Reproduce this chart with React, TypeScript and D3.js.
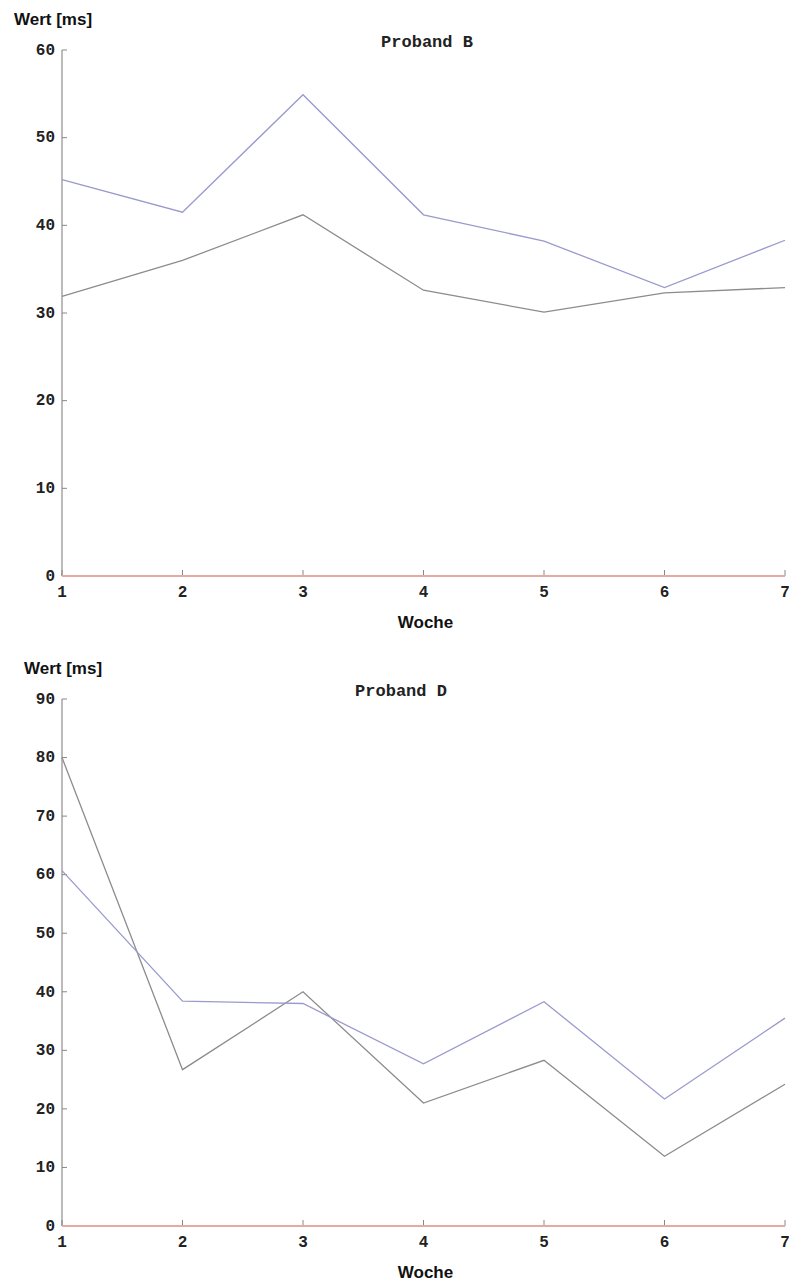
import React from "react";
import * as d3 from "d3";

const W = 789;
const H = 1285;

const weeks = [1, 2, 3, 4, 5, 6, 7];

// Proband B
const probandBBlue = [45.2, 41.5, 54.9, 41.2, 38.2, 32.9, 38.3];
const probandBGray = [31.9, 36.0, 41.2, 32.6, 30.1, 32.3, 32.9];
const probandBTicks = [0, 10, 20, 30, 40, 50, 60];

// Proband D
const probandDBlue = [60.7, 38.4, 38.0, 27.7, 38.3, 21.7, 35.5];
const probandDGray = [80.0, 26.7, 40.0, 21.0, 28.3, 11.9, 24.2];
const probandDTicks = [0, 10, 20, 30, 40, 50, 60, 70, 80, 90];

const mono = "'Liberation Mono', 'DejaVu Sans Mono', monospace";
const sans = "'Liberation Sans', Arial, sans-serif";

type ChartProps = {
  title: string;
  titleX: number;
  labelX: number;
  top: number;
  bottom: number;
  ticks: number[];
  blue: number[];
  gray: number[];
};

function Chart({ title, titleX, labelX, top, bottom, ticks, blue, gray }: ChartProps) {
  const left = 62;
  const right = 785;
  const x = d3.scaleLinear().domain([1, 7]).range([left, right]);
  const y = d3
    .scaleLinear()
    .domain([0, d3.max(ticks) as number])
    .range([bottom, top]);

  const line = d3
    .line<number>()
    .x((d, i) => x(weeks[i]))
    .y(d => y(d));

  return (
    <g>
      <text x={labelX} y={top - 25} fontFamily={sans} fontWeight="bold" fontSize={17} fill="#111">
        Wert [ms]
      </text>
      <text x={titleX} y={top - 3} textAnchor="middle" fontFamily={mono} fontWeight="bold" fontSize={17} fill="#222">
        {title}
      </text>

      {/* y axis */}
      <line x1={left} x2={left} y1={top} y2={bottom} stroke="#aaa" strokeWidth={1.6} />
      {ticks.map(t => (
        <g key={t}>
          <line x1={left} x2={left + 5} y1={y(t)} y2={y(t)} stroke="#888" strokeWidth={1} />
          <text
            x={left - 7}
            y={y(t)}
            dy="0.3em"
            textAnchor="end"
            fontFamily={mono}
            fontWeight="bold"
            fontSize={16}
            fill="#222"
          >
            {t}
          </text>
        </g>
      ))}

      {/* x axis */}
      {weeks.map(w => (
        <g key={w}>
          <line x1={x(w)} x2={x(w)} y1={bottom} y2={bottom - 6} stroke="#888" strokeWidth={1} />
          <text x={x(w)} y={bottom + 21} textAnchor="middle" fontFamily={mono} fontWeight="bold" fontSize={16} fill="#222">
            {w}
          </text>
        </g>
      ))}
      <line x1={left} x2={right} y1={bottom} y2={bottom} stroke="#e8a8a4" strokeWidth={1.8} />
      <text x={(left + right) / 2 + 2} y={bottom + 52} textAnchor="middle" fontFamily={sans} fontWeight="bold" fontSize={17} fill="#111">
        Woche
      </text>

      {/* series */}
      <path d={line(gray) || ""} fill="none" stroke="#8c8c8c" strokeWidth={1.3} />
      <path d={line(blue) || ""} fill="none" stroke="#9a9ace" strokeWidth={1.3} />
    </g>
  );
}

export default function App() {
  return (
    <svg
      width={W}
      height={H}
      style={{ position: "absolute", left: 0, top: 0, background: "#fff" }}
    >
      <rect width={W} height={H} fill="#fff" />
      <Chart
        title="Proband B"
        titleX={427}
        labelX={14}
        top={50}
        bottom={576}
        ticks={probandBTicks}
        blue={probandBBlue}
        gray={probandBGray}
      />
      <Chart
        title="Proband D"
        titleX={401}
        labelX={24}
        top={699}
        bottom={1226}
        ticks={probandDTicks}
        blue={probandDBlue}
        gray={probandDGray}
      />
    </svg>
  );
}
